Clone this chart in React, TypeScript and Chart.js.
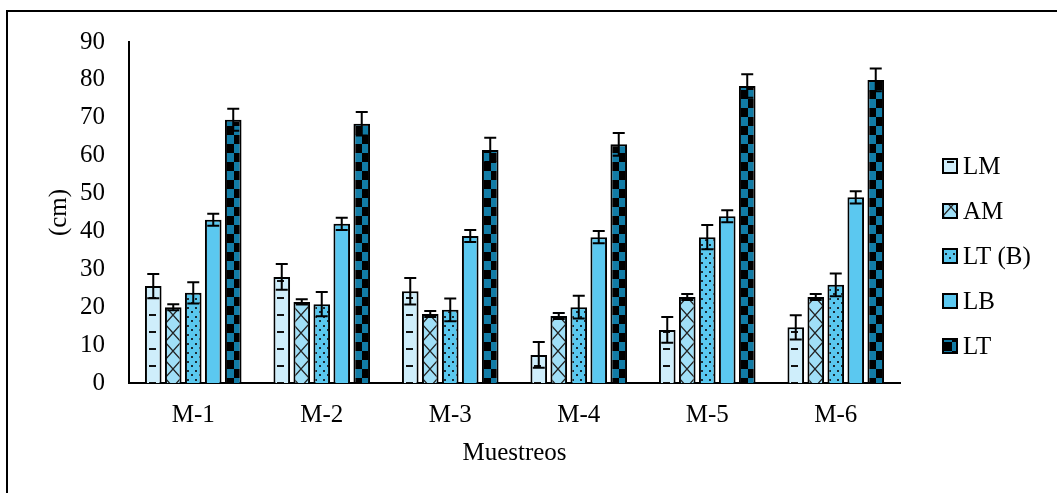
import React, { useEffect, useRef } from "react";
import { Chart, registerables } from "chart.js";

Chart.register(...registerables);

const categories = ["M-1", "M-2", "M-3", "M-4", "M-5", "M-6"];
const seriesNames = ["LM", "AM", "LT (B)", "LB", "LT"];

const lmValues = [25.6, 28, 24.2, 7.4, 14, 14.7];
const lmErrors = [3.2, 3.4, 3.5, 3.4, 3.4, 3.2];
const amValues = [20, 21.4, 18.2, 17.7, 22.7, 22.7];
const amErrors = [0.8, 0.7, 0.8, 0.8, 0.8, 0.8];
const ltbValues = [23.8, 20.8, 19.3, 20, 38.5, 25.9];
const ltbErrors = [2.8, 3.2, 3, 3, 3.2, 3];
const lbValues = [43.1, 42, 38.8, 38.5, 44, 49];
const lbErrors = [1.6, 1.6, 1.6, 1.6, 1.6, 1.6];
const ltValues = [69.5, 68.4, 61.5, 63, 78.4, 80];
const ltErrors = [2.9, 3.1, 3.2, 3, 3.1, 3];

const yMin = 0;
const yMax = 90;
const yStep = 10;
const yTitle = "(cm)";
const xTitle = "Muestreos";

const FONT = '"Liberation Serif", "Times New Roman", serif';
const FS = 25;
const CAT_PCT = 0.778;
const BAR_PCT = 0.83;

function makeTileCanvas(w: number, h: number, draw: (c: CanvasRenderingContext2D) => void) {
  const cv = document.createElement("canvas");
  cv.width = w;
  cv.height = h;
  const c = cv.getContext("2d")!;
  draw(c);
  return cv;
}

function makeTiles() {
  const dash = makeTileCanvas(16, 17, (c) => {
    c.fillStyle = "#cfeefb";
    c.fillRect(0, 0, 16, 17);
    c.fillStyle = "#111";
    c.fillRect(4, 8, 7, 2);
  });
  const lattice = makeTileCanvas(16, 18, (c) => {
    c.fillStyle = "#a0dff7";
    c.fillRect(0, 0, 16, 18);
    c.strokeStyle = "#222";
    c.lineWidth = 1.3;
    c.beginPath();
    c.moveTo(0, 0);
    c.lineTo(16, 18);
    c.moveTo(16, 0);
    c.lineTo(0, 18);
    c.stroke();
  });
  const dots = makeTileCanvas(8, 9, (c) => {
    c.fillStyle = "#5ac8ef";
    c.fillRect(0, 0, 8, 9);
    c.fillStyle = "#1b2a33";
    c.fillRect(2, 1, 2, 2);
    c.fillRect(6, 5, 2, 2);
  });
  const checker = makeTileCanvas(18, 18, (c) => {
    c.fillStyle = "#127ca6";
    c.fillRect(0, 0, 18, 18);
    c.fillStyle = "#000";
    c.fillRect(0, 0, 9, 9);
    c.fillRect(9, 9, 9, 9);
  });
  return [dash, lattice, dots, null, checker] as (HTMLCanvasElement | null)[];
}

const SOLID = "#5bc8f0";

export default function App() {
  const ref = useRef<HTMLCanvasElement | null>(null);

  useEffect(() => {
    if (!ref.current) return;
    const tiles = makeTiles();
    const values = [lmValues, amValues, ltbValues, lbValues, ltValues];
    const errors = [lmErrors, amErrors, ltbErrors, lbErrors, ltErrors];
    const helperCtx = document.createElement("canvas").getContext("2d")!;

    const patternAt = (di: number, offsetX: number) => {
      const tile = tiles[di];
      if (!tile) return SOLID;
      const p = helperCtx.createPattern(tile, "repeat")!;
      p.setTransform(new DOMMatrix().translate(offsetX, 0));
      return p;
    };

    const fillFor = (context: any) => {
      const di = context.datasetIndex;
      const i = context.dataIndex;
      const chart = context.chart;
      const xs = chart.scales && chart.scales.x;
      if (!xs || i === undefined) return patternAt(di, 0);
      const center = xs.getPixelForValue(i);
      const catW = xs.width / categories.length;
      const slot = (catW * CAT_PCT) / seriesNames.length;
      const barW = slot * BAR_PCT;
      const barCenter = center - (catW * CAT_PCT) / 2 + slot * (di + 0.5);
      return patternAt(di, Math.round(barCenter - barW / 2));
    };

    const errorBars = {
      id: "errorBars",
      afterDatasetsDraw(chart: any) {
        const ctx = chart.ctx;
        const yScale = chart.scales.y;
        ctx.save();
        ctx.strokeStyle = "#000";
        ctx.lineWidth = 2;
        chart.data.datasets.forEach((ds: any, di: number) => {
          const meta = chart.getDatasetMeta(di);
          meta.data.forEach((bar: any, i: number) => {
            const v = values[di][i];
            const e = errors[di][i];
            const yTop = yScale.getPixelForValue(v + e);
            const yBot = yScale.getPixelForValue(v - e);
            const x = bar.x;
            const hw = 6;
            ctx.beginPath();
            ctx.moveTo(x, yTop);
            ctx.lineTo(x, yBot);
            ctx.moveTo(x - hw, yTop);
            ctx.lineTo(x + hw, yTop);
            ctx.moveTo(x - hw, yBot);
            ctx.lineTo(x + hw, yBot);
            ctx.stroke();
          });
        });
        ctx.restore();
      },
    };

    const legendPlugin = {
      id: "customLegend",
      afterDraw(chart: any) {
        const ctx = chart.ctx;
        const area = chart.chartArea;
        const x0 = area.right + 43;
        const step = 45;
        const cy0 = 166;
        ctx.save();
        seriesNames.forEach((name, i) => {
          const cy = cy0 + i * step;
          const bx = x0;
          const by = Math.round(cy - 7);
          ctx.fillStyle = patternAt(i, bx) as any;
          ctx.fillRect(bx, by, 14, 14);
          ctx.strokeStyle = "#000";
          ctx.lineWidth = 2;
          ctx.strokeRect(bx, by, 14, 14);
          ctx.fillStyle = "#000";
          ctx.font = `${FS}px ${FONT}`;
          ctx.textBaseline = "middle";
          ctx.textAlign = "left";
          ctx.fillText(name, x0 + 20, cy + 1);
        });
        ctx.restore();
      },
    };

    const chart = new Chart(ref.current, {
      type: "bar",
      data: {
        labels: categories,
        datasets: seriesNames.map((name, i) => ({
          label: name,
          data: values[i],
          backgroundColor: fillFor as any,
          borderColor: "#000",
          borderWidth: 2,
          categoryPercentage: CAT_PCT,
          barPercentage: BAR_PCT,
        })),
      },
      options: {
        animation: false,
        responsive: false,
        events: [],
        layout: { padding: { left: 40, top: 42, right: 157, bottom: 21 } },
        plugins: {
          legend: { display: false },
          tooltip: { enabled: false },
          title: { display: false },
        },
        scales: {
          x: {
            grid: { display: false, drawTicks: false },
            border: { color: "#000", width: 2 },
            ticks: { color: "#000", font: { family: FONT, size: FS }, padding: 17 },
            title: {
              display: true,
              text: xTitle,
              color: "#000",
              font: { family: FONT, size: FS },
              padding: { top: 4, bottom: 4 },
            },
            afterFit: (s: any) => {
              s.height = 89;
            },
          },
          y: {
            min: yMin,
            max: yMax,
            grid: { display: false, drawTicks: false },
            border: { color: "#000", width: 2 },
            ticks: { stepSize: yStep, color: "#000", font: { family: FONT, size: FS }, padding: 24 },
            title: {
              display: true,
              text: yTitle,
              color: "#000",
              font: { family: FONT, size: FS },
              padding: { top: 4, bottom: 4 },
            },
            afterFit: (s: any) => {
              s.width = 89;
            },
          },
        },
      },
      plugins: [errorBars, legendPlugin],
    });
    return () => chart.destroy();
  }, []);

  return (
    <div style={{ position: "absolute", left: 0, top: 0, width: 1057, height: 493, overflow: "hidden", background: "#fff" }}>
      <div
        style={{
          position: "absolute",
          left: 6,
          top: 10,
          width: 1051,
          height: 483,
          boxSizing: "border-box",
          borderTop: "2px solid #000",
          borderLeft: "2px solid #000",
        }}
      />
      <canvas ref={ref} width={1057} height={493} style={{ position: "absolute", left: 0, top: 0, display: "block" }} />
    </div>
  );
}
